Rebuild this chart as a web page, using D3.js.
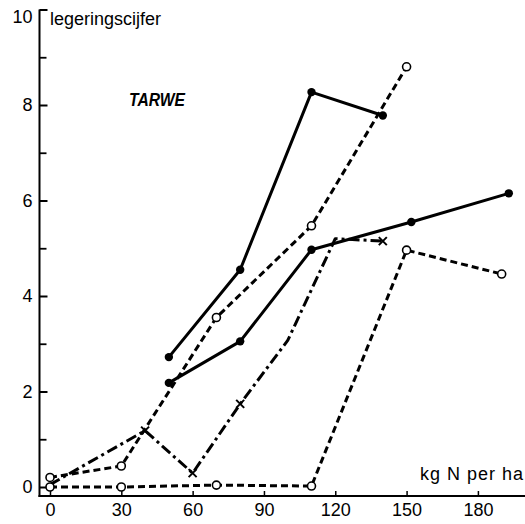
<!DOCTYPE html>
<html>
<head>
<meta charset="utf-8">
<script src="https://cdn.jsdelivr.net/npm/d3@7"></script>
<style>
  html, body { margin: 0; padding: 0; background: #fff; }
  svg { display: block; }
  text { font-family: "Liberation Sans", Arial, sans-serif; fill: #000; }
</style>
</head>
<body>
<svg id="chart" width="525" height="524"></svg>
<script>
// ---- data ----
const xTicks = [0, 30, 60, 90, 120, 150, 180];
const yTicks = [0, 2, 4, 6, 8, 10];
const yMinorTicks = [1, 3, 5, 7, 9];

// solid line, filled dots (upper)
const solidA_x = [50, 80, 110, 140];
const solidA_y = [2.72, 4.55, 8.27, 7.78];
// solid line, filled dots (lower)
const solidB_x = [50, 80, 110, 152, 193];
const solidB_y = [2.18, 3.05, 4.97, 5.55, 6.15];
// dashed line, open circles (upper)
const dashC_x = [0, 30, 70, 110, 150];
const dashC_y = [0.2, 0.44, 3.55, 5.47, 8.8];
// dashed line, open circles (lower)
const dashE_x = [0, 30, 70, 110, 150, 190];
const dashE_y = [0, 0, 0.04, 0.02, 4.96, 4.46];
// dash-dot line, crosses
const dotD_x = [0, 40, 60, 80, 100, 120, 140];
const dotD_y = [0.05, 1.18, 0.29, 1.74, 3.07, 5.2, 5.15];
const dotD_markers = [40, 60, 80, 140];

const yLabel = "legeringscijfer";
const xLabel = "kg N per ha";
const title = "TARWE";

// ---- layout ----
const svg = d3.select("#chart");
const x = d3.scaleLinear().domain([0, 180]).range([50, 477.9]);
const y = d3.scaleLinear().domain([0, 10]).range([487, 9.5]);
const axisX = 39.5, axisY = 496;

// axes lines
svg.append("line").attr("x1", axisX).attr("x2", axisX).attr("y1", y(10)).attr("y2", axisY + 1)
  .attr("stroke", "#000").attr("stroke-width", 2);
svg.append("line").attr("x1", axisX - 1).attr("x2", 525).attr("y1", axisY).attr("y2", axisY)
  .attr("stroke", "#000").attr("stroke-width", 2);

// y axis (ticks inward)
const gy = svg.append("g").attr("transform", `translate(${axisX},0)`)
  .call(d3.axisLeft(y).tickValues(yTicks).tickSize(-8).tickPadding(7).tickFormat(d3.format("d")));
gy.select(".domain").remove();
gy.selectAll("line").attr("stroke", "#000").attr("stroke-width", 2);
gy.selectAll("text").attr("font-size", 18).attr("font-family", "Liberation Sans, Arial, sans-serif");
gy.selectAll(".tick").filter(d => d === 10).select("text").attr("dy", "0.72em");

const gy2 = svg.append("g").attr("transform", `translate(${axisX},0)`)
  .call(d3.axisLeft(y).tickValues(yMinorTicks).tickSize(-7).tickFormat(""));
gy2.select(".domain").remove();
gy2.selectAll("line").attr("stroke", "#000").attr("stroke-width", 1.8);

// x axis (ticks upward)
const gx = svg.append("g").attr("transform", `translate(0,${axisY})`)
  .call(d3.axisBottom(x).tickValues(xTicks).tickSize(-5).tickPadding(7).tickFormat(d3.format("d")));
gx.select(".domain").remove();
gx.selectAll("line").attr("stroke", "#000").attr("stroke-width", 1.5);
gx.selectAll("text").attr("font-size", 18).attr("font-family", "Liberation Sans, Arial, sans-serif");

// labels
svg.append("text").attr("x", 50).attr("y", 25).attr("font-size", 18).text(yLabel);
svg.append("text").attr("x", 420).attr("y", 480).attr("font-size", 18)
  .attr("textLength", 103).attr("lengthAdjust", "spacing").text(xLabel);
svg.append("text").attr("x", 129).attr("y", 106).attr("font-size", 19)
  .attr("font-weight", "bold").attr("font-style", "italic")
  .attr("textLength", 56).attr("lengthAdjust", "spacingAndGlyphs").text(title);

const line = d3.line().x(d => x(d[0])).y(d => y(d[1]));
const zip = (xs, ys) => xs.map((v, i) => [v, ys[i]]);

function series(xs, ys, dash) {
  svg.append("path").datum(zip(xs, ys)).attr("d", line)
    .attr("fill", "none").attr("stroke", "#000").attr("stroke-width", 3)
    .attr("stroke-dasharray", dash).attr("stroke-linejoin", "round");
}

series(dashE_x, dashE_y, "7,4");
series(dashC_x, dashC_y, "7,4");
series(dotD_x, dotD_y, "11,4,3,4");
series(solidA_x, solidA_y, null);
series(solidB_x, solidB_y, null);

// markers
function filled(xs, ys) {
  svg.append("g").selectAll("circle").data(zip(xs, ys)).join("circle")
    .attr("cx", d => x(d[0])).attr("cy", d => y(d[1])).attr("r", 4.2).attr("fill", "#000");
}
function open(xs, ys) {
  svg.append("g").selectAll("circle").data(zip(xs, ys)).join("circle")
    .attr("cx", d => x(d[0])).attr("cy", d => y(d[1])).attr("r", 4)
    .attr("fill", "#fff").attr("stroke", "#000").attr("stroke-width", 1.6);
}
filled(solidA_x, solidA_y);
filled(solidB_x, solidB_y);
open(dashC_x, dashC_y);
open(dashE_x, dashE_y);

const crossPts = dotD_markers.map(v => [v, dotD_y[dotD_x.indexOf(v)]]);
const cg = svg.append("g");
crossPts.forEach(d => {
  const cx = x(d[0]), cy = y(d[1]), s = 4;
  cg.append("path").attr("d", `M${cx - s},${cy - s}L${cx + s},${cy + s}M${cx - s},${cy + s}L${cx + s},${cy - s}`)
    .attr("stroke", "#000").attr("stroke-width", 2);
});
</script>
</body>
</html>
